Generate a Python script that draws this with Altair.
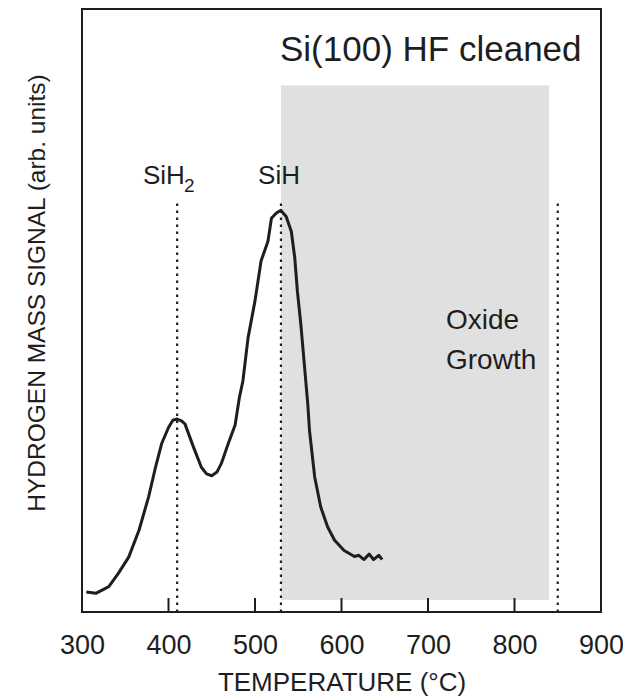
import altair as alt
import pandas as pd

# ---- data ----
temps = [305, 316, 331, 342, 354, 366, 377, 385, 392, 400, 405, 410, 415, 419,
         429, 438, 444, 450, 456, 461, 469, 477, 482, 486, 492, 500, 507, 515,
         519, 525, 530, 536, 542, 546, 549, 553, 557, 561, 563, 569, 576, 584,
         592, 603, 615, 620, 626, 632, 637, 643, 647]
signal = [3.3, 3.1, 4.2, 6.4, 9.1, 13.6, 19.1, 24.0, 27.9, 30.6, 31.8, 32.0, 31.7, 31.2,
          27.3, 24.0, 22.9, 22.6, 23.2, 24.6, 27.9, 31.0, 35.6, 38.3, 45.5, 51.6, 58.2, 61.5,
          65.3, 66.2, 66.6, 65.6, 63.1, 58.7, 53.2, 47.7, 41.1, 34.5, 30.1, 22.4, 17.4, 14.1,
          11.9, 10.2, 9.2, 9.4, 8.7, 9.6, 8.7, 9.4, 8.7]

tick_values = [300, 400, 500, 600, 700, 800, 900]
inner_ticks = [400, 500, 600, 700, 800]
marker_temps = [410, 530, 850]
marker_top = 68.5
oxide_start, oxide_end = 530, 840
oxide_bottom, oxide_top = 2.0, 87.3

W, H = 519, 603
FONT = "Liberation Sans"
INK = "#1e1e1e"

xscale = alt.Scale(domain=[300, 900], nice=False, zero=False)
yscale = alt.Scale(domain=[0, 100], nice=False, zero=False)

curve = pd.DataFrame({"T": temps, "S": signal})
shade = pd.DataFrame({"T": [oxide_start], "T2": [oxide_end],
                      "S": [oxide_bottom], "S2": [oxide_top]})
markers = pd.DataFrame({"T": marker_temps, "S": [0] * len(marker_temps),
                        "S2": [marker_top] * len(marker_temps)})
ticks = pd.DataFrame({"T": inner_ticks})

xaxis = alt.Axis(values=tick_values, ticks=False, tickSize=0, domain=False, grid=False,
                 labelFlush=False, labelOverlap=False,
                 labelFontSize=27, labelPadding=20, labelFont=FONT, labelColor=INK,
                 title="TEMPERATURE (°C)", titleFont=FONT, titleFontSize=26,
                 titleFontWeight="normal", titleColor=INK,
                 titleX=W / 2, titleY=78, titleBaseline="alphabetic", titleAlign="center")
yaxis = alt.Axis(labels=False, ticks=False, domain=False, grid=False,
                 title="HYDROGEN MASS SIGNAL (arb. units)", titleFont=FONT,
                 titleFontSize=24.5, titleFontWeight="normal", titleColor=INK,
                 titleAngle=270, titleX=-38, titleY=H / 2 - 18,
                 titleBaseline="alphabetic", titleAlign="center")

X = alt.X("T:Q", scale=xscale, axis=xaxis)
Y = alt.Y("S:Q", scale=yscale, axis=yaxis)

shade_layer = alt.Chart(shade).mark_rect(color="#e0e0e0").encode(
    x=X, x2="T2:Q", y=Y, y2="S2:Q")

marker_layer = alt.Chart(markers).mark_rule(
    color=INK, strokeWidth=2.2, strokeDash=[2.5, 4.5]).encode(
    x=X, y=Y, y2="S2:Q")

tick_layer = alt.Chart(ticks).mark_rule(color=INK, strokeWidth=2).encode(
    x=X, y=alt.value(H), y2=alt.value(H - 14))

line_layer = alt.Chart(curve).mark_line(color=INK, strokeWidth=3, strokeJoin="round").encode(
    x=X, y=Y)


def label(text, px, py, size, align="left"):
    return alt.Chart(pd.DataFrame({"t": [text]})).mark_text(
        font=FONT, fontSize=size, color=INK, align=align, baseline="alphabetic").encode(
        x=alt.value(px), y=alt.value(py), text="t:N")


texts = [
    label("Si(100) HF cleaned", 198, 52, 35),
    label("Oxide", 364, 320, 28),
    label("Growth", 364, 360, 28),
    label("SiH", 197, 175, 26, align="center"),
    label("SiH", 61, 175, 26),
    label("2", 102, 183, 19),
]

chart = alt.layer(shade_layer, marker_layer, tick_layer, line_layer, *texts).properties(
    width=W, height=H,
    autosize=alt.AutoSizeParams(type="none"),
    padding={"left": 74, "top": 1, "right": 22, "bottom": 88},
    background="white",
).configure_view(stroke=INK, strokeWidth=2)

chart.save("out.html", embed_options={"renderer": "svg", "actions": False})
